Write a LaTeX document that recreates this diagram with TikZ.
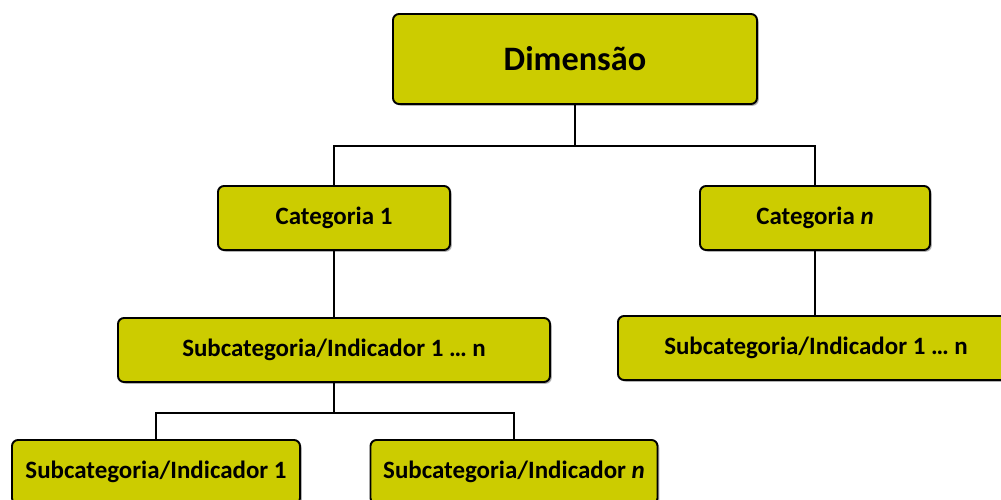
\documentclass[tikz,border=0pt]{standalone}
\usepackage{fontspec}
\setmainfont{Carlito}
\usepackage{tikz}
\usetikzlibrary{calc,positioning,shadows}
\definecolor{boxfill}{RGB}{204,204,0}
\tikzset{
  box/.style   = {draw, line width=1.1pt, fill=boxfill, rounded corners=1.2mm,
                  inner sep=0pt, font=\bfseries\fontsize{14.2}{17}\selectfont,
                  minimum height=12.8mm,
                  drop shadow={shadow xshift=0.35mm, shadow yshift=-0.35mm,
                               opacity=0.3, fill=black}},
  bigbox/.style = {box, minimum height=18mm, font=\bfseries\fontsize{19.5}{23}\selectfont},
  wire/.style  = {line width=1pt},
}
\begin{document}
\begin{tikzpicture}[x=0.2mm,y=-0.2mm]
  \clip (0,0) rectangle (1001,500);
  \node[bigbox, minimum width=72.8mm] (dim) at (575,59) {Dimensão};
  \node[box, minimum width=46.4mm] (cat1) at (334,218) {Categoria 1};
  \node[box, minimum width=46mm] (catn) at (815,218) {Categoria \textit{n}};
  \node[box, minimum width=86.4mm] (sub1n) at (334,350) {Subcategoria/Indicador 1 … n};
  \node[box, minimum width=79.2mm] (subrn) at (816,348) {Subcategoria/Indicador 1 … n};
  \node[box, minimum width=57.6mm] (sub1) at (156,472) {Subcategoria/Indicador 1};
  \node[box, minimum width=57.4mm] (subn) at (514,472) {Subcategoria/Indicador \textit{n}};
  % connectors
  \coordinate (j1) at ($(dim.south)+(0,41)$);
  \coordinate (j2) at ($(sub1n.south)+(0,30)$);
  \draw[wire] (dim.south) -- (j1);
  \draw[wire] (cat1.north) |- (j1) -| (catn.north);
  \draw[wire] (cat1.south) -- (sub1n.north);
  \draw[wire] (catn.south) -- (catn.south |- subrn.north);
  \draw[wire] (sub1n.south) -- (j2);
  \draw[wire] (sub1.north) |- (j2) -| (subn.north);
\end{tikzpicture}
\end{document}
